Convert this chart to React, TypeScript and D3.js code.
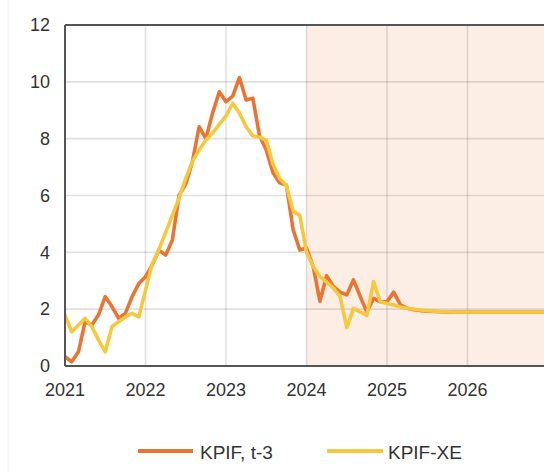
import React from "react";
import * as d3 from "d3";

const startYear = 2021;
const kpifT3: number[] = [
  // 2021
  0.33, 0.15, 0.5, 1.56, 1.44, 1.8, 2.44, 2.09, 1.68, 1.85, 2.44, 2.9,
  // 2022
  3.14, 3.55, 4.08, 3.9, 4.43, 6.0, 6.4, 7.2, 8.42, 8.0, 8.9, 9.65,
  // 2023
  9.3, 9.5, 10.15, 9.36, 9.42, 8.1, 7.6, 6.8, 6.45, 6.37, 4.8, 4.08,
  // 2024
  4.15, 3.5, 2.28, 3.18, 2.8, 2.6, 2.5, 3.03, 2.45, 1.9, 2.38, 2.26,
  // 2025
  2.26, 2.6, 2.15, 2.03, 1.98, 1.95, 1.93, 1.92, 1.91, 1.9, 1.9, 1.9,
  // 2026
  1.9, 1.9, 1.9, 1.9, 1.9, 1.9, 1.9, 1.9, 1.9, 1.9, 1.9, 1.9,
  // 2027
  1.9,
];
const kpifXE: number[] = [
  // 2021
  1.79, 1.2, 1.44, 1.68, 1.38, 0.91, 0.5, 1.38, 1.56, 1.73, 1.85, 1.73,
  // 2022
  2.67, 3.6, 4.1, 4.7, 5.3, 5.9, 6.6, 7.2, 7.6, 7.95, 8.2, 8.5,
  // 2023
  8.8, 9.24, 8.9, 8.42, 8.1, 8.05, 7.95, 7.1, 6.6, 6.35, 5.45, 5.3,
  // 2024
  4.0, 3.5, 3.15, 2.95, 2.75, 2.45, 1.35, 2.03, 1.9, 1.78, 2.97, 2.26,
  // 2025
  2.2, 2.15, 2.08, 2.03, 2.0, 1.97, 1.95, 1.93, 1.92, 1.91, 1.9, 1.9,
  // 2026
  1.9, 1.9, 1.9, 1.9, 1.9, 1.9, 1.9, 1.9, 1.9, 1.9, 1.9, 1.9,
  // 2027
  1.9,
];
const xTicks = [2021, 2022, 2023, 2024, 2025, 2026];
const yTicks = [0, 2, 4, 6, 8, 10, 12];
const forecastStart = 2024;
const seriesNames = ["KPIF, t-3", "KPIF-XE"];

const W = 544;
const H = 472;
const left = 65;
const top = 25;
const bottom = 366;
const right = 548;

const ORANGE = "#EA7431";
const YELLOW = "#F5C93E";
const FONT = "'Liberation Sans', Arial, sans-serif";

export default function App() {
  const x = d3.scaleLinear().domain([2021, 2027]).range([left, right]);
  const y = d3.scaleLinear().domain([0, 12]).range([bottom, top]);
  const mk = (vals: number[]) =>
    d3
      .line<number>()
      .x((_, i) => x(startYear + i / 12))
      .y((v) => y(v))(vals) || "";

  return (
    <svg
      width={W}
      height={H}
      style={{ position: "absolute", left: 0, top: 0, background: "#fff" }}
      fontFamily={FONT}
    >
      <defs>
        <clipPath id="plot">
          <rect x={left} y={top} width={right - left} height={bottom - top} />
        </clipPath>
      </defs>
      <line x1={8} x2={8} y1={0} y2={H} stroke="#f0f0f0" strokeWidth={1} />
      <rect
        x={x(forecastStart)}
        y={top}
        width={right - x(forecastStart)}
        height={bottom - top}
        fill="#FCEEE5"
      />
      {yTicks
        .filter((t) => t > 0 && t < 12)
        .map((t) => (
          <line key={"gy" + t} x1={left} x2={right} y1={y(t)} y2={y(t)} stroke="rgba(0,0,0,0.12)" strokeWidth={1.6} />
        ))}
      {xTicks
        .filter((t) => t > 2021)
        .map((t) => (
          <line key={"gx" + t} x1={x(t)} x2={x(t)} y1={top} y2={bottom} stroke="rgba(0,0,0,0.12)" strokeWidth={1.6} />
        ))}
      <g clipPath="url(#plot)" fill="none" strokeLinejoin="round" strokeLinecap="round">
        <path d={mk(kpifT3)} stroke={ORANGE} strokeWidth={3.6} />
        <path d={mk(kpifXE)} stroke={YELLOW} strokeWidth={3.6} />
      </g>
      <line x1={left} x2={right} y1={top} y2={top} stroke="#555" strokeWidth={2} />
      <line x1={left} x2={right} y1={bottom} y2={bottom} stroke="#555" strokeWidth={2} />
      <line x1={left} x2={left} y1={top} y2={bottom} stroke="#555" strokeWidth={2} />
      {yTicks.map((t) => (
        <text key={"yl" + t} x={50} y={y(t)} dy="0.35em" textAnchor="end" fontSize={18} fill="#333">
          {t}
        </text>
      ))}
      {xTicks.map((t) => (
        <text key={"xl" + t} x={x(t)} y={396} textAnchor="middle" fontSize={18} fill="#333">
          {t}
        </text>
      ))}
      <line x1={138} x2={193} y1={451} y2={451} stroke={ORANGE} strokeWidth={4} />
      <text x={200} y={459} fontSize={19} fill="#333">{seriesNames[0]}</text>
      <line x1={327} x2={383} y1={451} y2={451} stroke={YELLOW} strokeWidth={4} />
      <text x={388} y={459} fontSize={19} fill="#333">{seriesNames[1]}</text>
    </svg>
  );
}
